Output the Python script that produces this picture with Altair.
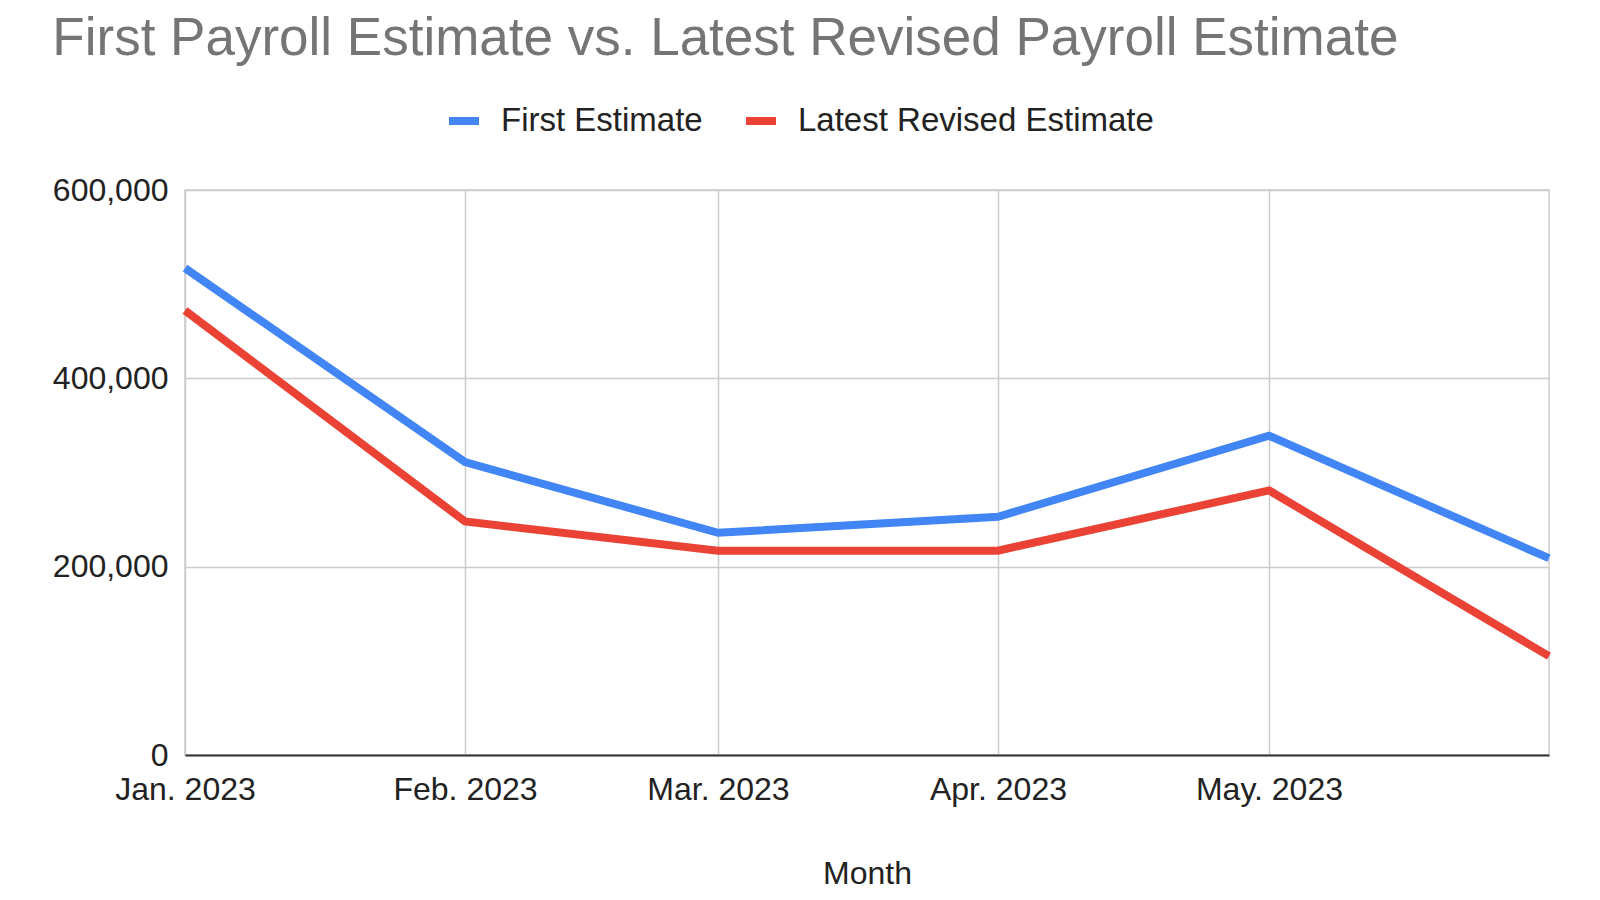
import altair as alt
import pandas as pd

months = ["2023-01-01", "2023-02-01", "2023-03-01", "2023-04-01", "2023-05-01", "2023-06-01"]
first_estimate = [517000, 311000, 236000, 253000, 339000, 209000]
latest_revised = [472000, 248000, 217000, 217000, 281000, 105000]
series_names = ["First Estimate", "Latest Revised Estimate"]
series_colors = ["#4285F4", "#EA4335"]
y_ticks = [0, 200000, 400000, 600000]

rows = []
for m, a, b in zip(months, first_estimate, latest_revised):
    rows.append({"Month": m, "Series": series_names[0], "Value": a})
    rows.append({"Month": m, "Series": series_names[1], "Value": b})
df = pd.DataFrame(rows)

tick_vals = [alt.DateTime(year=2023, month=i, date=1, utc=True) for i in range(1, 6)]
dom = [alt.DateTime(year=2023, month=1, date=1, utc=True), alt.DateTime(year=2023, month=6, date=1, utc=True)]

FONT = "Liberation Sans"

chart = alt.Chart(df).mark_line(strokeWidth=8, clip=False).encode(
    x=alt.X("Month:T",
            scale=alt.Scale(type="utc", domain=dom, nice=False),
            axis=alt.Axis(values=tick_vals, labelExpr="utcFormat(datum.value, '%b. %Y')", title="Month",
                          labelFontSize=32, labelColor="#222", labelPadding=19, ticks=False,
                          labelFlush=False,
                          domainColor="#333", domainWidth=2, gridColor="#cccccc", gridWidth=1.5,
                          titleFontSize=32, titleFontWeight="normal", titleColor="#222", titlePadding=53,
                          labelFont=FONT, titleFont=FONT)),
    y=alt.Y("Value:Q",
            scale=alt.Scale(domain=[0, 600000], nice=False),
            axis=alt.Axis(values=y_ticks, labelExpr="format(datum.value, ',')", title=None,
                          labelFontSize=32, labelColor="#222", labelPadding=17, ticks=False,
                          domain=False, gridColor="#cccccc", gridWidth=1.5, labelFont=FONT)),
    color=alt.Color("Series:N",
                    scale=alt.Scale(domain=series_names, range=series_colors),
                    legend=alt.Legend(title=None, orient="none", legendX=260, legendY=-88,
                                      direction="horizontal", labelFontSize=33, labelColor="#222",
                                      labelFont=FONT, labelLimit=600, symbolType="stroke", symbolStrokeWidth=8,
                                      symbolSize=900, columnPadding=27, labelOffset=18)),
).properties(
    width=1364,
    height=565,
    title=alt.TitleParams("First Payroll Estimate vs. Latest Revised Payroll Estimate",
                          anchor="start", frame="bounds", fontSize=53, fontWeight="normal",
                          color="#757575", font=FONT, offset=36, dx=0),
    padding={"left": 44, "top": 5, "right": 10, "bottom": 0},
).configure_view(stroke="#cccccc", strokeWidth=1.5)

chart.save("out.html", embed_options={"renderer": "svg", "actions": False})
